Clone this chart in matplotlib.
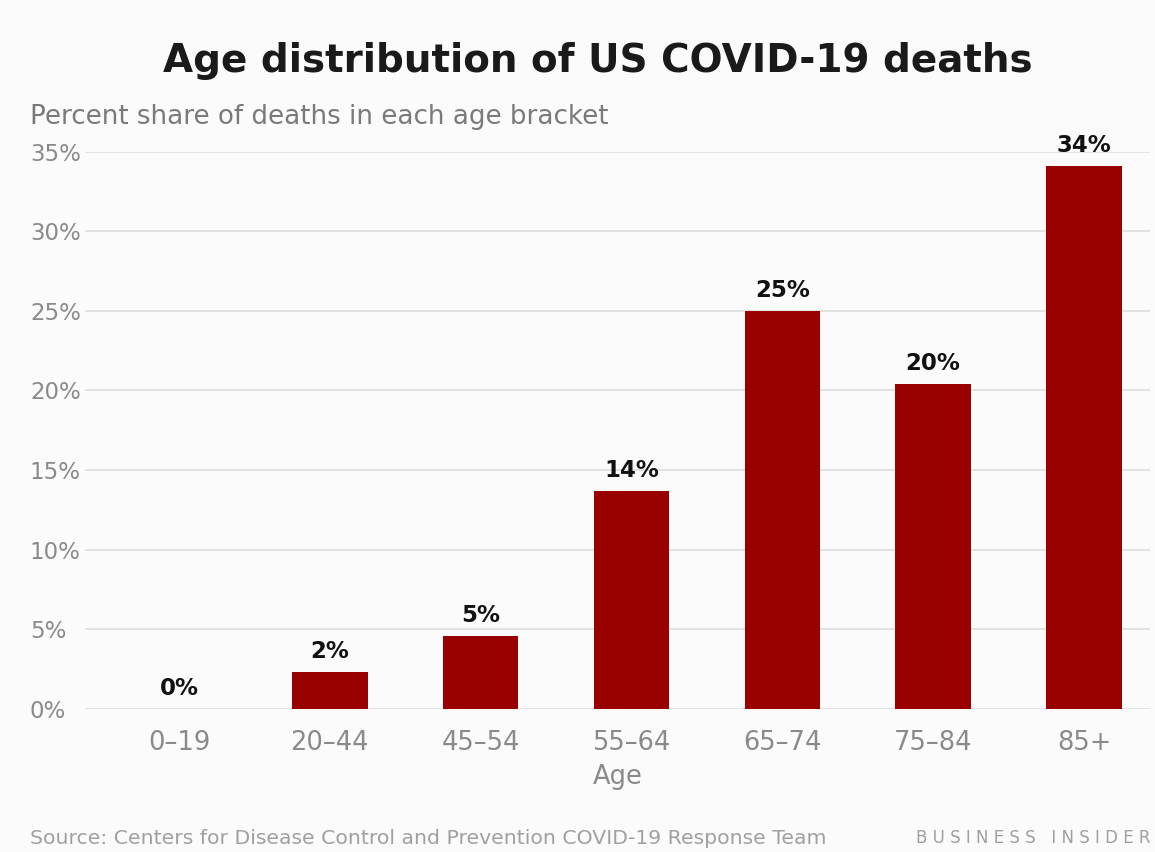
import matplotlib.pyplot as plt

ages = ['0–19', '20–44', '45–54', '55–64', '65–74', '75–84', '85+']
share = [0.0, 2.3, 4.6, 13.7, 25.0, 20.4, 34.1]
yticks = [0, 5, 10, 15, 20, 25, 30, 35]

bar_color = '#990000'
bg = '#fbfbfb'

fig = plt.figure(figsize=(11.55, 8.52), dpi=100, facecolor=bg)
ax = fig.add_axes([0.074, 0.168, 0.922, 0.654], facecolor=bg)

x = list(range(len(ages)))
bars = ax.bar(x, share, width=0.5, color=bar_color, zorder=3)

for xi, v in zip(x, share):
    ax.text(xi, v + 0.55, '%d%%' % round(v), ha='center', va='bottom',
            fontsize=16.5, fontweight='bold', color='#111111', zorder=4)

ax.set_xlim(-0.62, 6.44)
ax.set_ylim(0, 35)
ax.set_yticks(yticks)
ax.set_yticklabels(['%d%%' % t for t in yticks])
ax.set_xticks(x)
ax.set_xticklabels(ages)
ax.grid(axis='y', color='#dddddd', linewidth=1.2, zorder=0)
ax.tick_params(axis='both', length=0, colors='#8a8a8a')
ax.tick_params(axis='y', labelsize=16.5, pad=40)
ax.tick_params(axis='x', labelsize=18.5, pad=15)
for lbl in ax.get_yticklabels():
    lbl.set_horizontalalignment('left')
for s in ax.spines.values():
    s.set_visible(False)

ax.set_xlabel('Age', fontsize=18.5, color='#8a8a8a', labelpad=6)

fig.text(0.518, 0.928, 'Age distribution of US COVID-19 deaths', ha='center', va='center',
         fontsize=28, fontweight='bold', color='#1a1a1a')
fig.text(0.026, 0.863, 'Percent share of deaths in each age bracket', ha='left', va='center',
         fontsize=18.8, color='#7a7a7a')
fig.text(0.026, 0.016, 'Source: Centers for Disease Control and Prevention COVID-19 Response Team',
         ha='left', va='center', fontsize=14.7, color='#a0a0a0')
fig.text(0.996, 0.016, 'B U S I N E S S   I N S I D E R', ha='right', va='center',
         fontsize=12, color='#a0a0a0')

fig.savefig('out.png', dpi=100, facecolor=bg)
